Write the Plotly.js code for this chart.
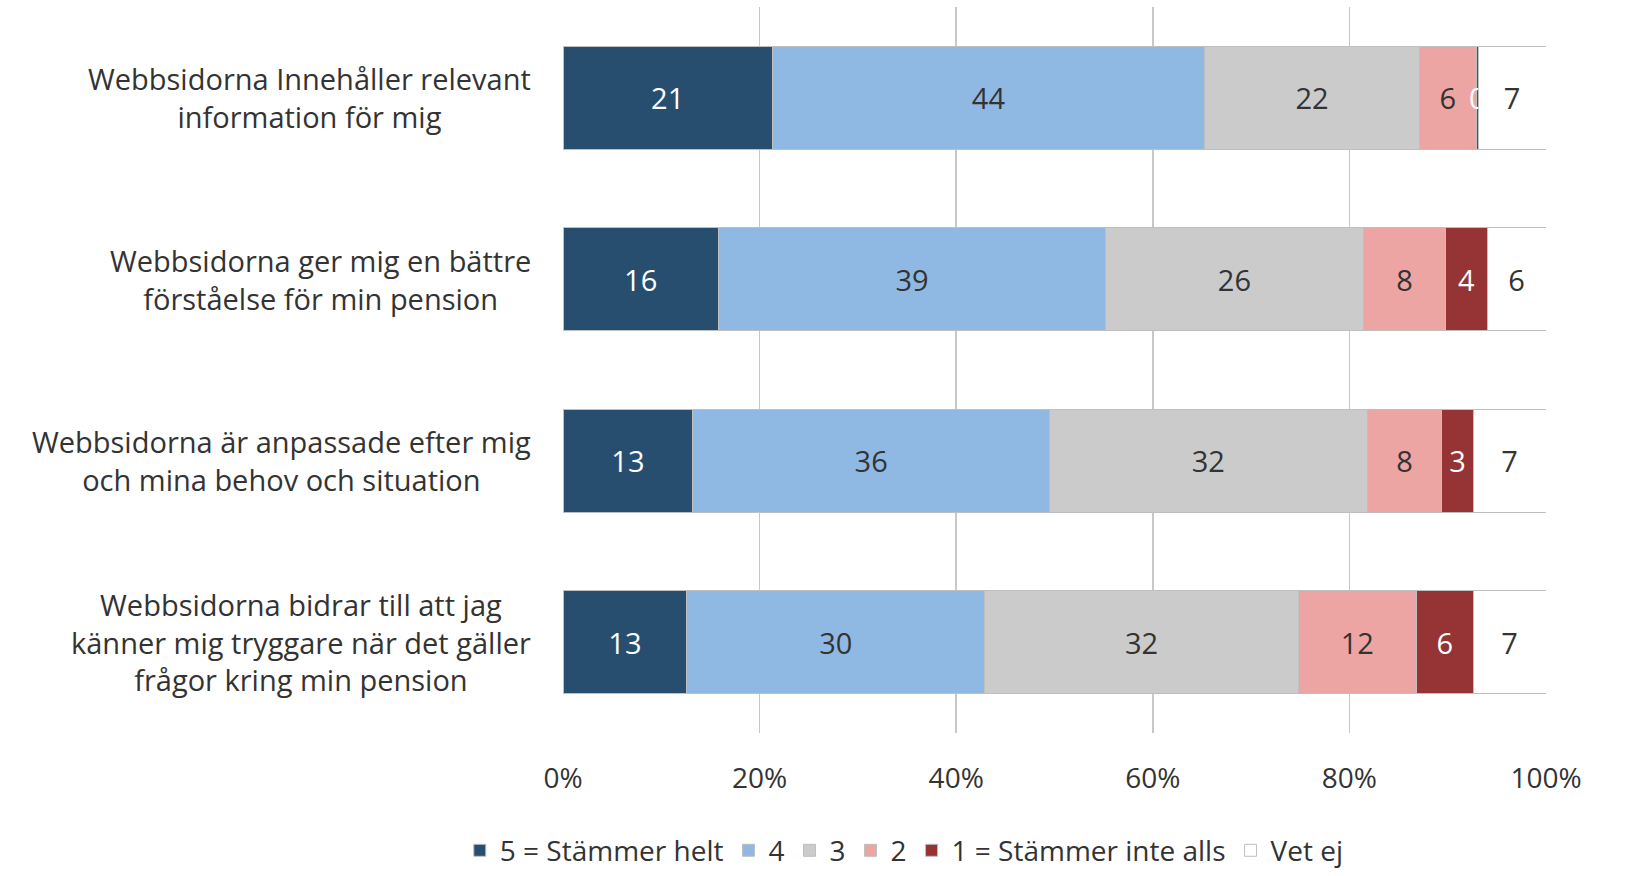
<!DOCTYPE html>
<html>
<head>
<meta charset="utf-8">
<script src="https://cdn.plot.ly/plotly-3.0.1.min.js"></script>
<style>
html,body{margin:0;padding:0;background:#fff;}
#chart{width:1648px;height:876px;}
</style>
</head>
<body>
<div id="chart"></div>
<script>
const categories = [
  "Webbsidorna Innehåller relevant<br>information för mig",
  "Webbsidorna ger mig en bättre<br>förståelse för min pension",
  "Webbsidorna är anpassade efter mig<br>och mina behov och situation",
  "Webbsidorna bidrar till att jag<br>känner mig tryggare när det gäller<br>frågor kring min pension"
];
const seriesNames = ["5 = Stämmer helt", "4", "3", "2", "1 = Stämmer inte alls", "Vet ej"];
const s5 = [21.3, 15.8, 13.2, 12.6];
const s4 = [44.0, 39.4, 36.3, 30.3];
const s3 = [21.8, 26.2, 32.3, 31.9];
const s2 = [5.8, 8.4, 7.6, 12.0];
const s1 = [0.2, 4.2, 3.2, 5.8];
const sVetEj = [6.9, 6.0, 7.4, 7.4];
const xTickVals = [0, 20, 40, 60, 80, 100];
const xTickText = ["0%", "20%", "40%", "60%", "80%", "100%"];

const seriesValues = [s5, s4, s3, s2, s1, sVetEj];
const fills = ["#274E6F", "#8FB9E3", "#CBCBCB", "#EDA5A3", "#963334", "#FFFFFF"];
const textColors = ["#FFFFFF", "#333333", "#333333", "#333333", "#FFFFFF", "#333333"];
const FONT = "'Open Sans', Lato, sans-serif";

const data = seriesValues.map((vals, i) => ({
  type: "bar",
  orientation: "h",
  name: seriesNames[i],
  x: vals,
  y: categories,
  marker: {color: fills[i], line: {color: "#BFBFBF", width: 1}},
  texttemplate: "%{x:.0f}",
  textposition: "inside",
  insidetextanchor: "middle",
  textangle: 0,
  textfont: {family: FONT, size: 29, color: textColors[i]},
  hoverinfo: "x+name"
}));

const annotations = categories.map(c => ({
  xref: "paper", yref: "y",
  x: 0, y: c,
  xanchor: "right", yanchor: "middle",
  xshift: -30,
  text: c,
  align: "center",
  showarrow: false,
  font: {family: FONT, size: 29, color: "#333333"}
}));

const layout = {
  width: 1648, height: 876,
  margin: {l: 563, r: 102, t: 7, b: 143, autoexpand: false},
  paper_bgcolor: "#FFFFFF",
  plot_bgcolor: "#FFFFFF",
  barmode: "stack",
  bargap: 0.433,
  uniformtext: {mode: "show", minsize: 29},
  font: {family: FONT, size: 28, color: "#333333"},
  xaxis: {
    range: [0, 100],
    tickvals: xTickVals,
    ticktext: xTickText,
    showgrid: true,
    gridcolor: "#C8C8C8",
    gridwidth: 1.5,
    zeroline: false,
    showline: false,
    ticks: "",
    ticklabelstandoff: 26,
    tickfont: {family: FONT, size: 28, color: "#333333"},
    fixedrange: true
  },
  yaxis: {
    autorange: "reversed",
    showticklabels: false,
    showgrid: false,
    zeroline: false,
    showline: false,
    ticks: "",
    fixedrange: true
  },
  showlegend: true,
  legend: {
    orientation: "h",
    traceorder: "normal",
    x: -0.105, xanchor: "left",
    y: -0.162, yanchor: "middle",
    font: {family: FONT, size: 28, color: "#333333"},
    itemclick: false, itemdoubleclick: false
  },
  annotations: annotations
};

Plotly.newPlot("chart", data, layout, {displayModeBar: false, staticPlot: true});
</script>
</body>
</html>
